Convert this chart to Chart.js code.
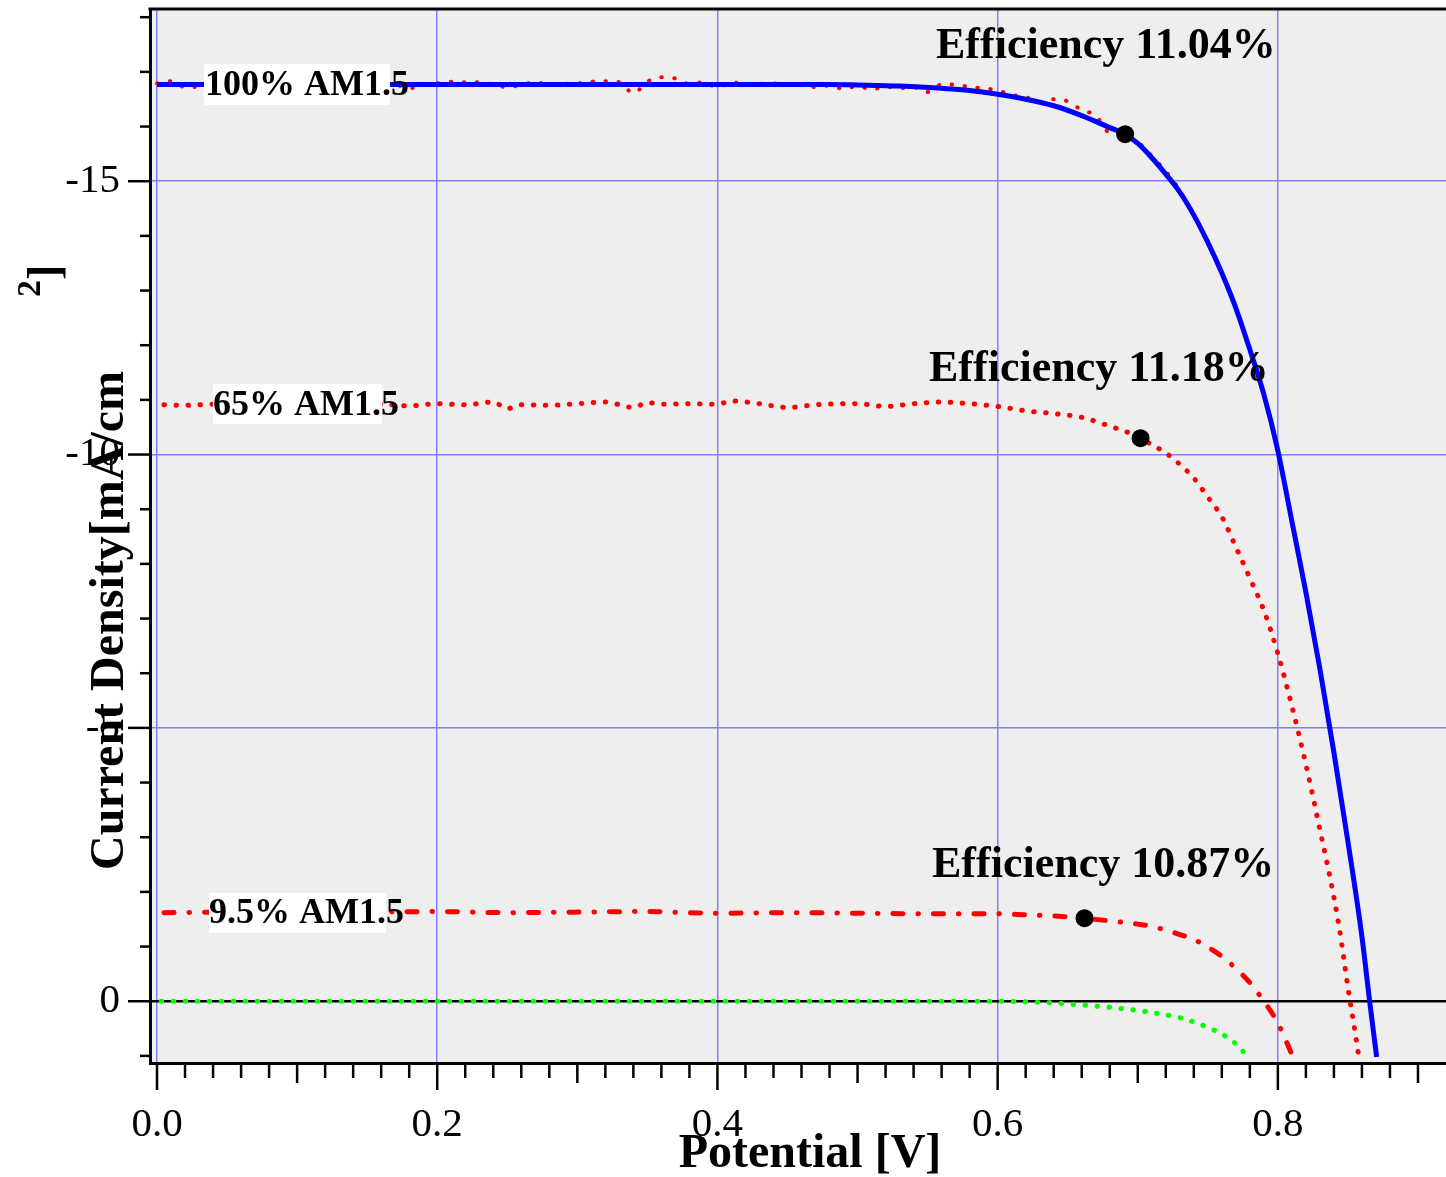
<!DOCTYPE html>
<html>
<head>
<meta charset="utf-8">
<script src="https://cdn.jsdelivr.net/npm/chart.js@4.4.0/dist/chart.umd.min.js"></script>
<style>
  html, body { margin: 0; padding: 0; background: #fff; }
  canvas { display: block; }
</style>
</head>
<body>
<canvas id="iv" width="1446" height="1177"></canvas>
<script>
// J-V curves (V in volts, J in mA/cm2)
const v100fit = [0, 0.05, 0.10, 0.15, 0.20, 0.25, 0.30, 0.35, 0.40, 0.45, 0.48, 0.50, 0.53, 0.56, 0.58, 0.60,
  0.62, 0.64, 0.66, 0.68, 0.691, 0.70, 0.71, 0.72, 0.73, 0.74, 0.75, 0.76, 0.77, 0.78, 0.79, 0.80,
  0.81, 0.82, 0.83, 0.84, 0.85, 0.86, 0.8655, 0.8705];
const j100fit = [-16.77, -16.77, -16.77, -16.77, -16.77, -16.77, -16.77, -16.77, -16.77, -16.77, -16.77,
  -16.76, -16.74, -16.70, -16.66, -16.59, -16.50, -16.38, -16.20, -15.98, -15.86, -15.69, -15.43,
  -15.13, -14.80, -14.38, -13.88, -13.32, -12.68, -11.92, -11.10, -10.07, -8.78, -7.48, -6.08,
  -4.55, -2.92, -1.18, 0.00, 1.02];

const v100 = [0.00, 0.01, 0.02, 0.03, 0.04, 0.05, 0.06, 0.07, 0.08, 0.09, 0.10, 0.11, 0.12, 0.13, 0.14,
  0.15, 0.16, 0.17, 0.18, 0.19, 0.20, 0.21, 0.22, 0.23, 0.24, 0.25, 0.26, 0.27, 0.28, 0.29, 0.30,
  0.31, 0.32, 0.33, 0.34, 0.35, 0.36, 0.37, 0.38, 0.39, 0.40, 0.41, 0.42, 0.43, 0.44, 0.45, 0.46,
  0.47, 0.48, 0.49, 0.50, 0.51, 0.52, 0.53, 0.54, 0.55, 0.56, 0.57, 0.58, 0.59, 0.60, 0.61, 0.62,
  0.63, 0.64, 0.65, 0.66, 0.67, 0.68, 0.69, 0.70, 0.71, 0.72, 0.73, 0.74, 0.75, 0.76, 0.77, 0.78,
  0.79, 0.80, 0.81, 0.82, 0.83, 0.84, 0.85, 0.86, 0.867];
const j100 = [-16.79, -16.83, -16.72, -16.73, -16.78, -16.76, -16.80, -16.75, -16.78, -16.74, -16.79,
  -16.77, -16.81, -16.74, -16.78, -16.76, -16.80, -16.77, -16.70, -16.76, -16.79, -16.82, -16.81,
  -16.81, -16.77, -16.72, -16.76, -16.81, -16.77, -16.78, -16.79, -16.82, -16.83, -16.81, -16.61,
  -16.82, -16.90, -16.88, -16.78, -16.81, -16.72, -16.81, -16.77, -16.78, -16.79, -16.76, -16.78,
  -16.72, -16.75, -16.69, -16.74, -16.68, -16.73, -16.70, -16.72, -16.63, -16.77, -16.77, -16.72,
  -16.70, -16.66, -16.58, -16.54, -16.45, -16.50, -16.46, -16.30, -16.20, -15.88, -15.85, -15.72,
  -15.46, -15.18, -14.83, -14.36, -13.90, -13.30, -12.66, -11.93, -11.08, -10.05, -8.76, -7.45,
  -6.06, -4.53, -2.90, -1.16, 0.25];

const v65 = [0.005, 0.02, 0.04, 0.06, 0.08, 0.10, 0.12, 0.14, 0.16, 0.18, 0.20, 0.22, 0.24, 0.25, 0.26,
  0.28, 0.30, 0.32, 0.34, 0.35, 0.36, 0.38, 0.40, 0.41, 0.43, 0.45, 0.47, 0.50, 0.52, 0.54, 0.56,
  0.58, 0.60, 0.62, 0.64, 0.66, 0.68, 0.70, 0.71, 0.72, 0.73, 0.74, 0.75, 0.76, 0.77, 0.78, 0.79,
  0.80, 0.81, 0.82, 0.83, 0.84, 0.845, 0.85, 0.855, 0.858];
const j65 = [-10.91, -10.90, -10.92, -10.89, -10.91, -10.93, -10.90, -10.91, -10.92, -10.89, -10.93,
  -10.91, -10.96, -10.84, -10.91, -10.90, -10.93, -10.96, -10.86, -10.95, -10.92, -10.93, -10.92,
  -10.98, -10.93, -10.86, -10.91, -10.93, -10.88, -10.93, -10.96, -10.93, -10.88, -10.80, -10.75,
  -10.68, -10.52, -10.33, -10.18, -10.03, -9.82, -9.57, -9.22, -8.86, -8.31, -7.74, -7.15, -6.36,
  -5.40, -4.33, -3.14, -1.90, -1.15, -0.25, 0.55, 1.05];

const v95 = [0.005, 0.05, 0.10, 0.15, 0.20, 0.25, 0.30, 0.35, 0.40, 0.45, 0.50, 0.55, 0.60, 0.62, 0.64,
  0.66, 0.68, 0.70, 0.71, 0.72, 0.73, 0.74, 0.75, 0.76, 0.77, 0.78, 0.79, 0.80, 0.81];
const j95 = [-1.62, -1.63, -1.61, -1.63, -1.64, -1.62, -1.63, -1.64, -1.61, -1.62, -1.61, -1.60, -1.60,
  -1.58, -1.56, -1.52, -1.47, -1.41, -1.37, -1.30, -1.22, -1.13, -0.99, -0.82, -0.60, -0.34, 0.00,
  0.40, 0.97];

const vDark = [0.003, 0.10, 0.20, 0.30, 0.40, 0.50, 0.60, 0.62, 0.64, 0.66, 0.68, 0.70, 0.72, 0.73, 0.74,
  0.75, 0.76, 0.77, 0.78];
const jDark = [0, 0, 0, 0, 0, 0, 0, 0.01, 0.03, 0.07, 0.11, 0.17, 0.25, 0.30, 0.38, 0.48, 0.60, 0.78, 1.06];

// maximum power points
const vMpp = [0.691, 0.702, 0.662];
const jMpp = [-15.86, -10.30, -1.52];

const xMajor = [0, 0.2, 0.4, 0.6, 0.8];
const yMajor = [-15, -10, -5, 0];

const intensityLabels = ['100% AM1.5', '65% AM1.5', '9.5% AM1.5'];
const efficiencyLabels = ['Efficiency 11.04%', 'Efficiency 11.18%', 'Efficiency 10.87%'];

function pts(xs, ys) {
  return xs.map((x, i) => ({ x: x, y: ys[i] }));
}

const SERIF = 'Liberation Serif';
const GRID_BLUE = '#8080ff';

// background, frame, tick marks, labels and axis titles
const decor = {
  id: 'decor',
  afterLayout(chart) {
    // let the plot run to the right edge of the canvas, like the original
    const a = chart.chartArea;
    const x = chart.scales.x;
    if (a.right < chart.width) {
      a.right = chart.width;
      a.width = a.right - a.left;
      x.right = chart.width;
      x.width = x.right - x.left;
      x.configure();
    }
  },
  beforeDraw(chart) {
    const { ctx, chartArea: a } = chart;
    ctx.save();
    ctx.fillStyle = '#eeeeee';
    ctx.fillRect(a.left, a.top, a.right - a.left, a.bottom - a.top);
    ctx.restore();
  },
  afterDatasetsDraw(chart) {
    const ctx = chart.ctx;
    ctx.save();
    ctx.textAlign = 'left';
    ctx.textBaseline = 'alphabetic';
    // intensity tags on white boxes
    const tags = [
      { box: [204, 64, 186, 41], x: 205, y: 95 },
      { box: [213, 384, 169, 40], x: 213, y: 415 },
      { box: [209, 893, 177, 40], x: 209, y: 923 }
    ];
    ctx.font = 'bold 36px "' + SERIF + '"';
    tags.forEach((t, i) => {
      ctx.fillStyle = '#ffffff';
      ctx.fillRect(t.box[0], t.box[1], t.box[2], t.box[3]);
      ctx.fillStyle = '#000000';
      ctx.fillText(intensityLabels[i], t.x, t.y);
    });
    // efficiencies
    const eff = [[936, 58], [929, 381], [932, 877]];
    ctx.font = 'bold 44px "' + SERIF + '"';
    eff.forEach((p, i) => ctx.fillText(efficiencyLabels[i], p[0], p[1]));
    ctx.restore();
  },
  afterDraw(chart) {
    const { ctx, chartArea: a, scales: { x, y } } = chart;
    ctx.save();
    ctx.strokeStyle = '#000';
    ctx.lineWidth = 3;
    ctx.beginPath();
    ctx.moveTo(a.left - 1.5, a.top);
    ctx.lineTo(a.right, a.top);
    ctx.stroke();

    // x tick marks every 0.02 V
    ctx.lineWidth = 2.5;
    for (let i = 0; i <= 46; i++) {
      const px = x.getPixelForValue(i * 0.02);
      if (px > a.right - 1) continue;
      const len = i % 10 === 0 ? 27 : (i % 5 === 0 ? 20 : 15);
      ctx.beginPath();
      ctx.moveTo(px, a.bottom);
      ctx.lineTo(px, a.bottom + len);
      ctx.stroke();
    }
    // y tick marks every 1 mA/cm2
    for (let v = -18; v <= 1; v++) {
      const py = y.getPixelForValue(v);
      const len = v % 5 === 0 ? 22 : 10;
      ctx.beginPath();
      ctx.moveTo(a.left, py);
      ctx.lineTo(a.left - len, py);
      ctx.stroke();
    }

    // axis titles (they sit over the tick labels in the original)
    ctx.fillStyle = '#000';
    ctx.textBaseline = 'alphabetic';
    ctx.font = 'bold 48px "' + SERIF + '"';
    ctx.textAlign = 'center';
    ctx.fillText('Potential [V]', 810, 1167);

    ctx.save();
    ctx.translate(123, 870);
    ctx.rotate(-Math.PI / 2);
    ctx.textAlign = 'left';
    ctx.fillText('Current Density[mA/cm', 0, 0);
    ctx.restore();

    ctx.save();
    ctx.translate(40, 297);
    ctx.rotate(-Math.PI / 2);
    ctx.font = 'bold 34px "' + SERIF + '"';
    ctx.textAlign = 'left';
    ctx.fillText('2', 0, 0);
    ctx.restore();

    ctx.save();
    ctx.translate(59, 280);
    ctx.rotate(-Math.PI / 2);
    ctx.font = 'bold 46px "' + SERIF + '"';
    ctx.textAlign = 'left';
    ctx.fillText(']', 0, 0);
    ctx.restore();

    ctx.restore();
  }
};

const lineBase = {
  pointRadius: 0,
  fill: false,
  cubicInterpolationMode: 'monotone',
  borderCapStyle: 'round'
};

new Chart(document.getElementById('iv'), {
  type: 'line',
  data: {
    datasets: [
      {
        label: 'Pmax', data: pts(vMpp, jMpp), showLine: false,
        pointRadius: 9, pointBackgroundColor: '#000', pointBorderWidth: 0, order: 0
      },
      Object.assign({}, lineBase, {
        label: '100% fit', data: pts(v100fit, j100fit),
        borderColor: '#0000ff', borderWidth: 5, borderCapStyle: 'butt', order: 1
      }),
      Object.assign({}, lineBase, {
        label: '100% AM1.5', data: pts(v100, j100),
        borderColor: '#ff0000', borderWidth: 4, borderDash: [0.5, 12.5], order: 2
      }),
      Object.assign({}, lineBase, {
        label: '65% AM1.5', data: pts(v65, j65),
        borderColor: '#ff0000', borderWidth: 5, borderDash: [0.5, 11.5], order: 3
      }),
      Object.assign({}, lineBase, {
        label: '9.5% AM1.5', data: pts(v95, j95),
        borderColor: '#ff0000', borderWidth: 5, borderDash: [10, 15, 0.5, 15], order: 4
      }),
      Object.assign({}, lineBase, {
        label: 'dark', data: pts(vDark, jDark),
        borderColor: '#00ff00', borderWidth: 5, borderDash: [0.5, 11.5], order: 5
      })
    ]
  },
  options: {
    responsive: false,
    animation: false,
    devicePixelRatio: 1,
    events: [],
    layout: { padding: { top: 7, left: 0, right: 0, bottom: 0 } },
    plugins: {
      legend: { display: false },
      tooltip: { enabled: false }
    },
    scales: {
      x: {
        type: 'linear',
        min: -0.005,
        max: 0.92,
        afterBuildTicks: scale => { scale.ticks = xMajor.map(v => ({ value: v })); },
        afterFit: scale => {
          scale.height = 114;
          scale.paddingLeft = 0;
          scale.paddingRight = 0;
        },
        ticks: {
          color: '#000',
          padding: 38,
          maxRotation: 0,
          font: { family: SERIF, size: 41 },
          callback: v => v.toFixed(1)
        },
        grid: { color: GRID_BLUE, lineWidth: 1.5, drawTicks: false },
        border: { color: '#000', width: 3 }
      },
      y: {
        type: 'linear',
        reverse: true,
        min: -18.15,
        max: 1.13,
        afterBuildTicks: scale => { scale.ticks = yMajor.map(v => ({ value: v })); },
        afterFit: scale => {
          scale.width = 150;
          scale.paddingTop = 0;
          scale.paddingBottom = 0;
        },
        ticks: {
          color: '#000',
          padding: 30,
          font: { family: SERIF, size: 41 },
          callback: v => String(v)
        },
        grid: {
          color: c => (c.tick && c.tick.value === 0 ? '#000' : GRID_BLUE),
          lineWidth: c => (c.tick && c.tick.value === 0 ? 2.5 : 1.5),
          drawTicks: false
        },
        border: { color: '#000', width: 3 }
      }
    }
  },
  plugins: [decor]
});
</script>
</body>
</html>
